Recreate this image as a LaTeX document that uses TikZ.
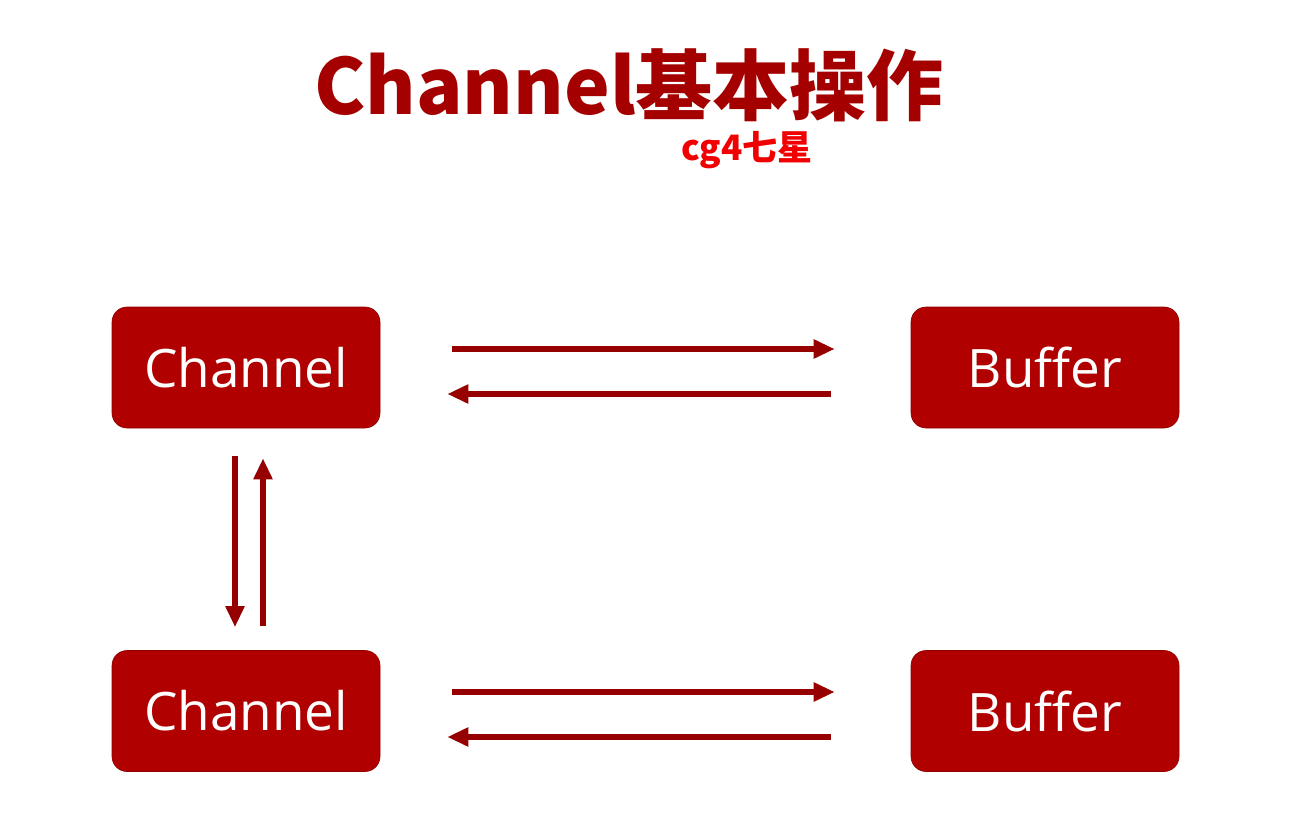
\documentclass[tikz,border=0pt]{standalone}
\usepackage{fontspec}
\setmainfont{Open Sans}
\newfontfamily\cjk{Noto Sans CJK SC}
\usetikzlibrary{arrows.meta}
\definecolor{boxred}{HTML}{B00000}
\definecolor{titlered}{HTML}{A50000}
\definecolor{arrowred}{HTML}{960000}
\definecolor{markred}{HTML}{F00000}
\tikzset{
  blockbox/.style={fill=boxred, draw=boxred!80!black, line width=0.6pt, rounded corners=15pt,
    minimum width=268pt, minimum height=121pt, inner sep=0pt,
    text=white, font=\fontsize{53}{60}\selectfont},
  flow/.style={draw=arrowred, line width=5.5pt,
    -{Triangle[length=21pt,width=18pt]}},
}
\begin{document}
\begin{tikzpicture}[x=1pt,y=-1pt]
  \fill[white] (0,0) rectangle (1294,832);
  \useasboundingbox (0,0) rectangle (1294,832);

  % heading
  \node[text=titlered, font=\cjk\bfseries\fontsize{77}{84}\selectfont, inner sep=0pt]
    (title) at (629,85) {Channel基本操作};
  \node[text=markred, font=\cjk\bfseries\fontsize{35}{40}\selectfont, inner sep=0pt]
    (mark) at (747,150) {cg4七星};

  % blocks
  \node[blockbox] (c1) at (246,367.5) {Channel};
  \node[blockbox] (b1) at (1045,367.5) {Buffer};
  \node[blockbox] (c2) at (246,711) {Channel};
  \node[blockbox] (b2) at (1045,711) {Buffer};

  % horizontal pairs
  \draw[flow, shorten <=72pt, shorten >=76pt] ([yshift=18.5pt]c1.east) -- ([yshift=18.5pt]b1.west);
  \draw[flow, shorten <=80pt, shorten >=67pt] ([yshift=-26.5pt]b1.west) -- ([yshift=-26.5pt]c1.east);
  \draw[flow, shorten <=72pt, shorten >=76pt] ([yshift=19pt]c2.east) -- ([yshift=19pt]b2.west);
  \draw[flow, shorten <=80pt, shorten >=67pt] ([yshift=-26pt]b2.west) -- ([yshift=-26pt]c2.east);

  % vertical pair
  \draw[flow, shorten <=28pt, shorten >=23pt] ([xshift=-11pt]c1.south) -- ([xshift=-11pt]c2.north);
  \draw[flow, shorten <=24pt, shorten >=30pt] ([xshift=17pt]c2.north) -- ([xshift=17pt]c1.south);
\end{tikzpicture}
\end{document}
